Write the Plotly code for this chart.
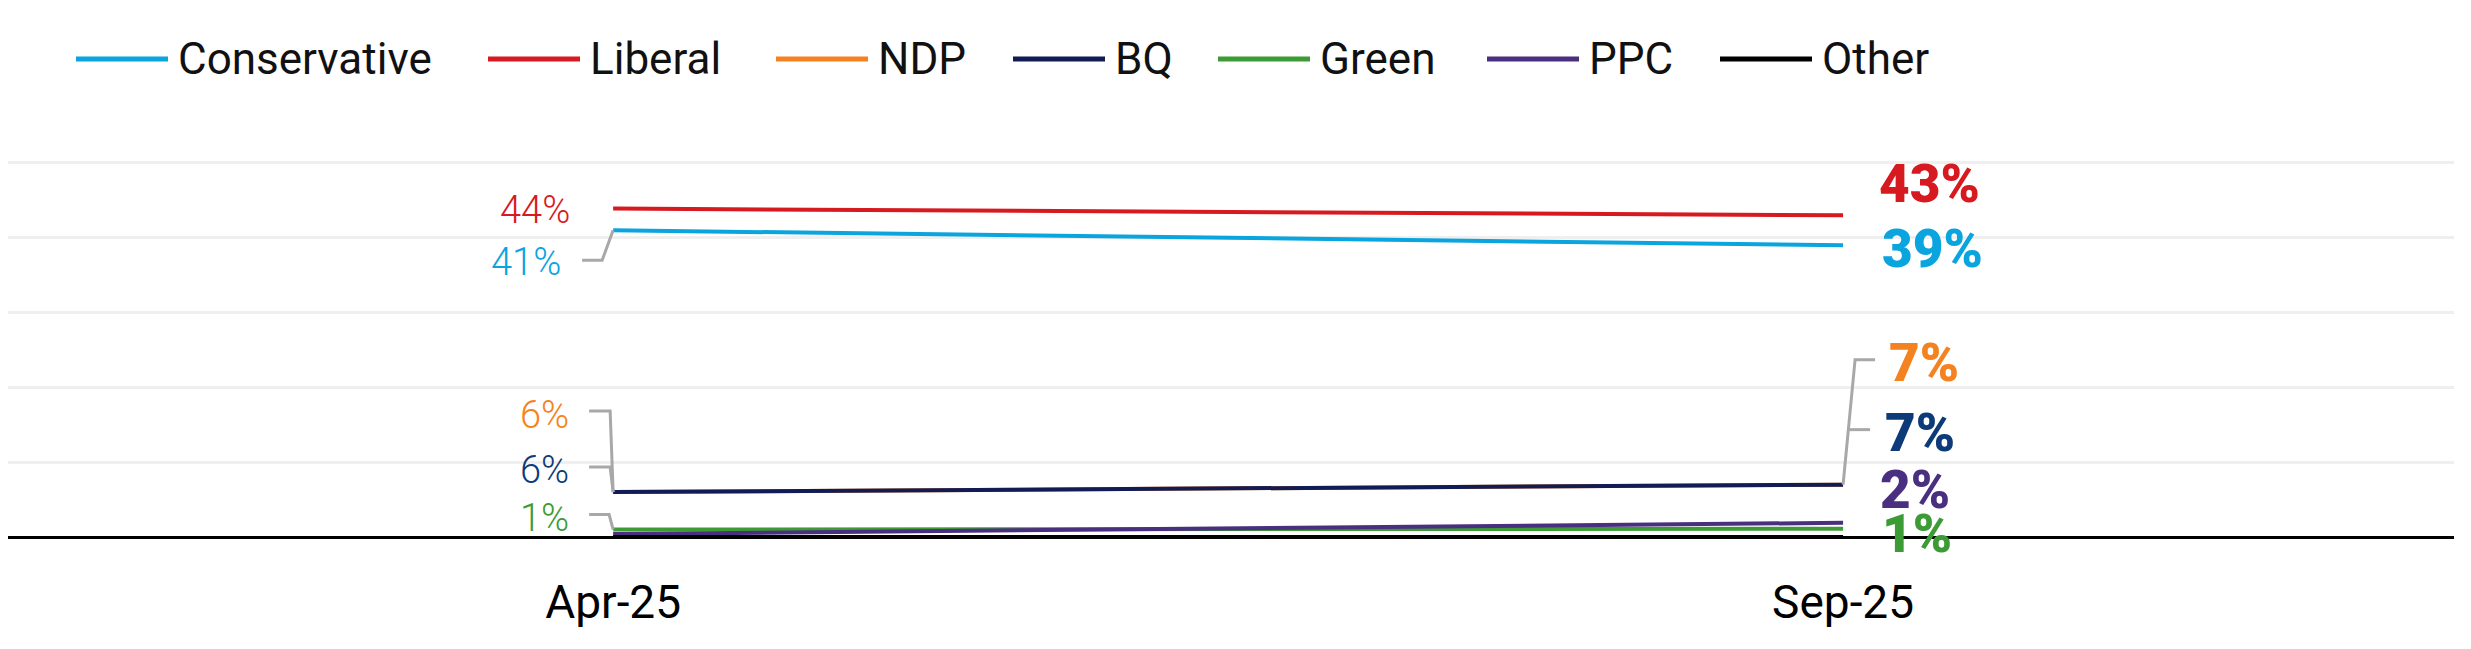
"""
Poll tracking chart: party support, Apr-25 vs Sep-25.
"""

import plotly.graph_objects as go

# Dados
meses = ["Apr-25", "Sep-25"]
partidos = ["Conservative", "Liberal", "NDP", "BQ", "Green", "PPC", "Other"]
conservative = [41.0, 39.0]
liberal = [43.9, 43.0]
ndp = [6.0, 7.0]
bq = [6.0, 7.0]
green = [1.0, 1.1]
ppc = [0.4, 1.9]
other = [0.0, 0.0]

valores = {
    "Conservative": conservative,
    "Liberal": liberal,
    "NDP": ndp,
    "BQ": bq,
    "Green": green,
    "PPC": ppc,
    "Other": other,
}

# Cores
CORES_LINHA = {
    "Conservative": "#0AA4DE",
    "Liberal": "#D71920",
    "NDP": "#F58220",
    "BQ": "#111C55",
    "Green": "#3D9B35",
    "PPC": "#4A2E80",
    "Other": "#000000",
}
CORES_ROTULO = dict(CORES_LINHA, BQ="#0D3A78")
COR_CONECTOR = "#A8A8A8"
FONTE = "Roboto"

# rótulos (xshift, yshift) em px, por lado
ROTULOS_ESQ = {
    "Liberal": (-41, -1),
    "Conservative": (-50, -32),
    "NDP": (-42, 77),
    "BQ": (-42, 22),
    "Green": (-42, 12),
}
ROTULOS_DIR = {
    "Liberal": (34, 31),
    "Conservative": (37, -4),
    "NDP": (44, 122),
    "BQ": (40, 52),
    "PPC": (35, 33),
    "Green": (37, -5),
}
# conectores (path em px relativos ao ponto)
CONECTORES_ESQ = {
    "Conservative": "M0,0 L-11,-30 L-31,-30",
    "NDP": "M0,0 L-3,81 L-24,81",
    "BQ": "M0,0 L-3,25 L-24,25",
    "Green": "M0,0 L-4,15 L-24,15",
}
CONECTORES_DIR = {
    "NDP": "M0,0 L12,125 L32,125",
    "BQ": "M5,55 L27,55",
}

# a página tem 8px de margem no body
OFF = 8

# legenda manual (px na página)
LEG_X = [76, 488, 776, 1013, 1218, 1487, 1720]
LEG_LARG = 92
LEG_Y = 59

W, H = 2471, 649
M_L, M_R, M_T, M_B = 0, 25, 152, 120
plot_w = W - M_L - M_R
plot_h = H - M_T - M_B

fig = go.Figure()

for p in partidos:
    fig.add_trace(go.Scatter(
        x=meses, y=valores[p],
        mode="lines",
        name=p,
        line=dict(color=CORES_LINHA[p], width=4),
        showlegend=False,
    ))

anotacoes = []
formas = []

for p, (dx, dy) in ROTULOS_ESQ.items():
    v = valores[p][0]
    anotacoes.append(dict(
        x=meses[0], y=v, xref="x", yref="y",
        text=f"{v:.0f}%", showarrow=False,
        xanchor="right", yanchor="middle",
        xshift=dx, yshift=dy,
        font=dict(family=FONTE, size=38, color=CORES_ROTULO[p], weight=300),
    ))

for p, (dx, dy) in ROTULOS_DIR.items():
    v = valores[p][1]
    anotacoes.append(dict(
        x=meses[1], y=v, xref="x", yref="y",
        text=f"{v:.0f}%", showarrow=False,
        xanchor="left", yanchor="middle",
        xshift=dx, yshift=dy,
        font=dict(family=FONTE, size=53, color=CORES_ROTULO[p], weight=900),
    ))

for idx, conectores in ((0, CONECTORES_ESQ), (1, CONECTORES_DIR)):
    for p, caminho in conectores.items():
        formas.append(dict(
            type="path", xref="x", yref="y",
            xsizemode="pixel", ysizemode="pixel",
            xanchor=idx, yanchor=valores[p][idx],
            path=caminho,
            line=dict(color=COR_CONECTOR, width=3),
        ))

# legenda
yp = (H - M_B - (LEG_Y - OFF)) / plot_h
for p, x0 in zip(partidos, LEG_X):
    x0 = x0 - OFF - M_L
    formas.append(dict(
        type="line", xref="paper", yref="paper",
        x0=x0 / plot_w, x1=(x0 + LEG_LARG) / plot_w,
        y0=yp, y1=yp,
        line=dict(color=CORES_LINHA[p], width=5),
    ))
    anotacoes.append(dict(
        x=(x0 + LEG_LARG + 8) / plot_w, y=yp,
        xref="paper", yref="paper",
        text=p, showarrow=False,
        xanchor="left", yanchor="middle",
        font=dict(family=FONTE, size=44, color="#111111"),
    ))

fig.update_layout(
    width=W, height=H,
    margin=dict(l=M_L, r=M_R, t=M_T, b=M_B),
    plot_bgcolor="white",
    paper_bgcolor="white",
    showlegend=False,
    annotations=anotacoes,
    shapes=formas,
    font=dict(family=FONTE),
)
fig.update_xaxes(
    type="category",
    range=[-0.492, 1.4967],
    showgrid=False,
    ticks="",
    tickfont=dict(family=FONTE, size=46, color="#000000"),
    ticklabelstandoff=34,
)
fig.update_yaxes(
    range=[0, 50.4],
    dtick=10,
    showticklabels=False,
    gridcolor="#EFEFEF",
    gridwidth=3,
    zeroline=True,
    zerolinecolor="#000000",
    zerolinewidth=3,
)

fig.write_html("out.html")
